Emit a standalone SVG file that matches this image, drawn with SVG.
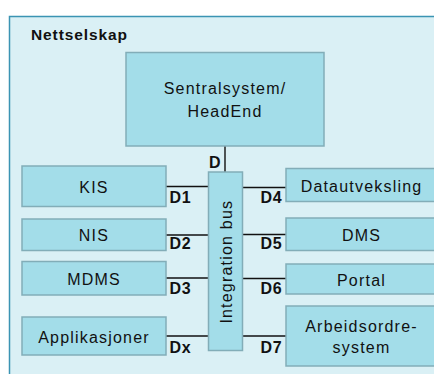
<svg xmlns="http://www.w3.org/2000/svg" width="434" height="374" viewBox="0 0 434 374">
<style>
.box{fill:#a3dde9;stroke:#82adb8;stroke-width:1.5}
.t{font-family:"Liberation Sans",Arial,sans-serif;font-size:16px;fill:#111;text-anchor:middle;letter-spacing:1.2px}
.lbl{font-family:"Liberation Sans",Arial,sans-serif;font-size:16px;font-weight:bold;fill:#111;letter-spacing:0.6px}
.c{stroke:#111;stroke-width:1.4;fill:none}
</style>
<rect width="434" height="374" fill="#ffffff"/>
<g id="nettselskap">
<rect x="9.5" y="16.5" width="440" height="380" fill="#daf0f5" stroke="#3b94b3" stroke-width="1.5"/>
<text x="31" y="40" font-family="Liberation Sans,Arial,sans-serif" font-size="15.5" font-weight="bold" letter-spacing="0.9" fill="#111">Nettselskap</text>
</g>
<g id="connectors">
<line class="c" x1="225" y1="146" x2="225" y2="172"/>
<line class="c" x1="166" y1="186.5" x2="208" y2="186.5"/>
<line class="c" x1="166" y1="235" x2="208" y2="235"/>
<line class="c" x1="166" y1="278" x2="208" y2="278"/>
<line class="c" x1="166" y1="336" x2="208" y2="336"/>
<line class="c" x1="243" y1="187.5" x2="286" y2="187.5"/>
<line class="c" x1="243" y1="234.5" x2="286" y2="234.5"/>
<line class="c" x1="243" y1="278.5" x2="286" y2="278.5"/>
<line class="c" x1="243" y1="336" x2="286" y2="336"/>
<text class="lbl" x="209" y="168">D</text>
<text class="lbl" x="169.5" y="202.5">D1</text>
<text class="lbl" x="169.5" y="249">D2</text>
<text class="lbl" x="169.5" y="294">D3</text>
<text class="lbl" x="169.5" y="352.5">Dx</text>
<text class="lbl" x="260.5" y="202.5">D4</text>
<text class="lbl" x="260.5" y="249">D5</text>
<text class="lbl" x="260.5" y="294">D6</text>
<text class="lbl" x="260.5" y="352.5">D7</text>
</g>
<g id="sentralsystem">
<rect class="box" x="126" y="52.5" width="198" height="93.5"/>
<text class="t" x="225" y="94">Sentralsystem/</text>
<text class="t" x="225" y="117">HeadEnd</text>
</g>
<g id="integration-bus">
<rect class="box" x="208.5" y="172" width="34" height="178.5"/>
<text class="t" x="0" y="0" letter-spacing="0.8" transform="translate(231.5 261.7) rotate(-90)">Integration bus</text>
</g>
<g id="kis">
<rect class="box" x="22" y="166" width="144" height="40.5"/>
<text class="t" x="94" y="193.3">KIS</text>
</g>
<g id="nis">
<rect class="box" x="22" y="219" width="144" height="31.5"/>
<text class="t" x="94" y="241">NIS</text>
</g>
<g id="mdms">
<rect class="box" x="22" y="261.5" width="144" height="33.5"/>
<text class="t" x="94" y="285.3">MDMS</text>
</g>
<g id="applikasjoner">
<rect class="box" x="22" y="317" width="144" height="38"/>
<text class="t" x="94" y="343.3">Applikasjoner</text>
</g>
<g id="datautveksling">
<rect class="box" x="286" y="168.5" width="152" height="33"/>
<text class="t" x="361.5" y="191.7">Datautveksling</text>
</g>
<g id="dms">
<rect class="box" x="286" y="218" width="152" height="32.5"/>
<text class="t" x="361.5" y="241">DMS</text>
</g>
<g id="portal">
<rect class="box" x="286" y="264" width="152" height="30"/>
<text class="t" x="361.5" y="286">Portal</text>
</g>
<g id="arbeidsordresystem">
<rect class="box" x="286" y="306" width="152" height="60"/>
<text class="t" x="361.5" y="331.7">Arbeidsordre-</text>
<text class="t" x="361.5" y="352.7">system</text>
</g>
</svg>
